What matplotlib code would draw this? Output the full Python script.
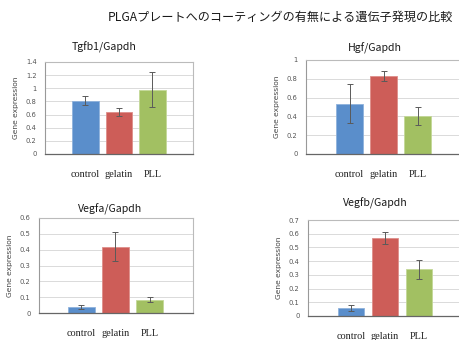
import matplotlib
matplotlib.use("Agg")
import matplotlib.pyplot as plt

W, H = 460, 340

main_title = "PLGAプレートへのコーティングの有無による遺伝子発現の比較"
groups = ["control", "gelatin", "PLL"]
bar_colors = ["#5A8ECB", "#CD5D58", "#A2C062"]
edge_colors = ["#8FB2DC", "#DE8E8A", "#C3D898"]

tgfb1 = [0.81, 0.64, 0.98]
tgfb1_err = [0.07, 0.06, 0.27]
hgf = [0.535, 0.83, 0.405]
hgf_err = [0.205, 0.05, 0.10]
vegfa = [0.036, 0.42, 0.085]
vegfa_err = [0.012, 0.09, 0.018]
vegfb = [0.057, 0.57, 0.34]
vegfb_err = [0.02, 0.045, 0.07]

panels = [
    # title, values, errors, ymax, ystep, box (l, t, r, b px), first bar center px, spacing px, title pos px
    ("Tgfb1/Gapdh", tgfb1, tgfb1_err, 1.4, 0.2, (45, 62, 193, 154), 85.5, 33.5, (104, 47)),
    ("Hgf/Gapdh", hgf, hgf_err, 1.0, 0.2, (306, 60, 470, 154), 349.5, 34.0, (375, 48)),
    ("Vegfa/Gapdh", vegfa, vegfa_err, 0.6, 0.1, (39, 218, 193, 313), 81.5, 34.0, (110, 209)),
    ("Vegfb/Gapdh", vegfb, vegfb_err, 0.7, 0.1, (308, 220, 470, 316), 351.0, 34.0, (375, 203)),
]

cjk = ["Noto Sans CJK JP", "DejaVu Sans"]

fig = plt.figure(figsize=(W / 100, H / 100), dpi=100)
fig.patch.set_facecolor("white")

fig.text(280 / W, 1 - 17 / H, main_title, ha="center", va="center",
         fontsize=8.7, family=cjk, color="#1a1a1a")

for title, vals, errs, ymax, ystep, (l, t, r, b), c0, sp, (tx, ty) in panels:
    ax = fig.add_axes([l / W, 1 - b / H, (r - l) / W, (b - t) / H])
    x0 = -(c0 - l) / sp
    x1 = x0 + (r - l) / sp
    xs = list(range(len(vals)))
    ax.bar(xs, vals, width=0.79, color=bar_colors, edgecolor=edge_colors,
           linewidth=0.6, zorder=2)
    ax.errorbar(xs, vals, yerr=errs, fmt="none", ecolor="#5a5a5a",
                elinewidth=0.7, capsize=2.2, capthick=0.7, zorder=3)
    ax.set_xlim(x0, x1)
    ax.set_ylim(0, ymax)
    n = int(round(ymax / ystep))
    ticks = [round(i * ystep, 2) for i in range(n + 1)]
    ax.set_yticks(ticks)
    ax.set_yticklabels([f"{v:g}" for v in ticks])
    ax.set_xticks(xs)
    ax.set_xticklabels(groups, family="Liberation Serif", fontsize=7.4, color="#222222")
    ax.tick_params(axis="x", length=0, pad=11.5)
    ax.tick_params(axis="y", length=0, pad=6, labelsize=4.9, labelcolor="#555555")
    ax.grid(axis="y", color="#DADADA", linewidth=0.7, zorder=0)
    ax.set_axisbelow(True)
    for side in ("top", "right"):
        ax.spines[side].set_color("#BBBBBB")
        ax.spines[side].set_linewidth(0.8)
    ax.spines["left"].set_color("#999999")
    ax.spines["left"].set_linewidth(0.8)
    ax.spines["bottom"].set_color("#666666")
    ax.spines["bottom"].set_linewidth(0.9)
    ax.set_ylabel("Gene expression", fontsize=5.4, color="#444444", labelpad=5)
    fig.text(tx / W, 1 - ty / H, title, ha="center", va="center",
             fontsize=7.6, family=cjk, color="#1a1a1a")

fig.savefig("out.png", dpi=100, facecolor="white")
